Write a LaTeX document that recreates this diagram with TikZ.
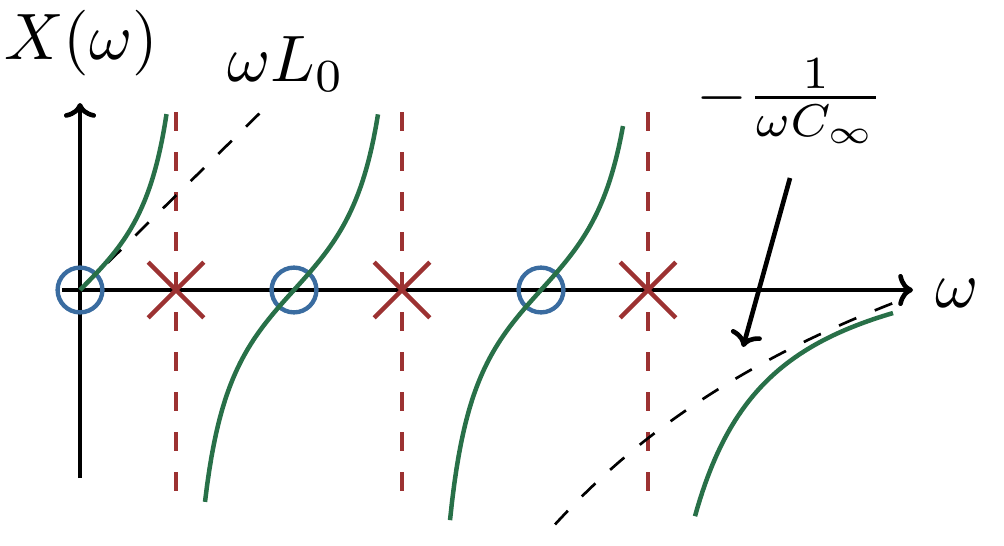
\documentclass[tikz,border=0pt]{standalone}
\usetikzlibrary{arrows.meta,shapes.misc}
\definecolor{polered}{RGB}{156,50,50}
\definecolor{branchgreen}{RGB}{40,112,72}
\definecolor{zeroblue}{RGB}{58,108,160}

\begin{document}
\begin{tikzpicture}[x=0.025cm, y=-0.025cm,
    lbl/.style={scale=4.67, inner sep=0pt},
    axis/.style={line width=3.3pt, -{To[length=0.37cm, width=0.8cm]}},
    branch/.style={branchgreen, line width=3.2pt, samples=80},
    asym/.style={line width=1.9pt, dash pattern=on 0.47cm off 0.5cm},
    poleline/.style={polered, line width=3.2pt, dash pattern=on 0.475cm off 0.525cm},
    zero/.style={circle, draw=zeroblue, line width=3.1pt, minimum size=1.12cm, inner sep=0pt},
    pole/.style={cross out, draw=polered, line width=3.2pt, minimum size=1.28cm, inner sep=0pt}]
  \useasboundingbox (0,0) rectangle (1004,545);

  % axes
  \coordinate (o) at (80,290);
  \coordinate (ybot) at (80,478);
  \coordinate (ytop) at (80,103);
  \coordinate (xleft) at (62,290);
  \coordinate (xright) at (913,290);
  \draw[axis] (ybot) -- (ytop);
  \draw[axis] (xleft) -- (xright);
  \node[lbl, anchor=base] (xlab) at (81,60) {$X(\omega)$};
  \node[lbl, anchor=base] (wlab) at (957,307) {$\omega$};

  % poles
  \foreach \n/\x in {1/176, 2/402, 3/648} {
    \coordinate (p\n top) at (\x,112);
    \coordinate (p\n bot) at (\x,491);
    \draw[poleline] (p\n top) -- (p\n bot);
    \node[pole] (p\n) at (\x,290) {};
  }

  % zeros
  \foreach \n/\x in {1/80, 2/294, 3/541}
    \node[zero] (z\n) at (\x,290) {};

  % asymptotes
  \coordinate (L0end) at (266,107);
  \draw[asym] (o) -- (L0end);
  \node[lbl, anchor=base] (L0lab) at (286,82) {$\omega L_0$};
  \draw[asym] plot[domain=555:903, samples=60] (\x, {-21+270/((\x-60)/1000)});
  \node[lbl, anchor=base] (Clab) at (790,114) {$-\frac{1}{\omega C_\infty}$};
  \coordinate (a) at (790,178);
  \coordinate (b) at (743,347);
  \draw[axis] (a) -- (b);

  % reactance branches
  \draw[branch] plot[domain=0:86.5] ({80+\x}, {290-75*tan(0.7735*\x)});
  \draw[branch] plot[domain=-89:84] ({294+\x}, {290-82*tan(0.7735*\x)});
  \draw[branch] plot[domain=-91:82] ({541+\x}, {290-82*tan(0.7735*\x)});
  \draw[branch] plot[domain=695:893] (\x, {232+224.5/((\x-616)/100)});
\end{tikzpicture}
\end{document}
